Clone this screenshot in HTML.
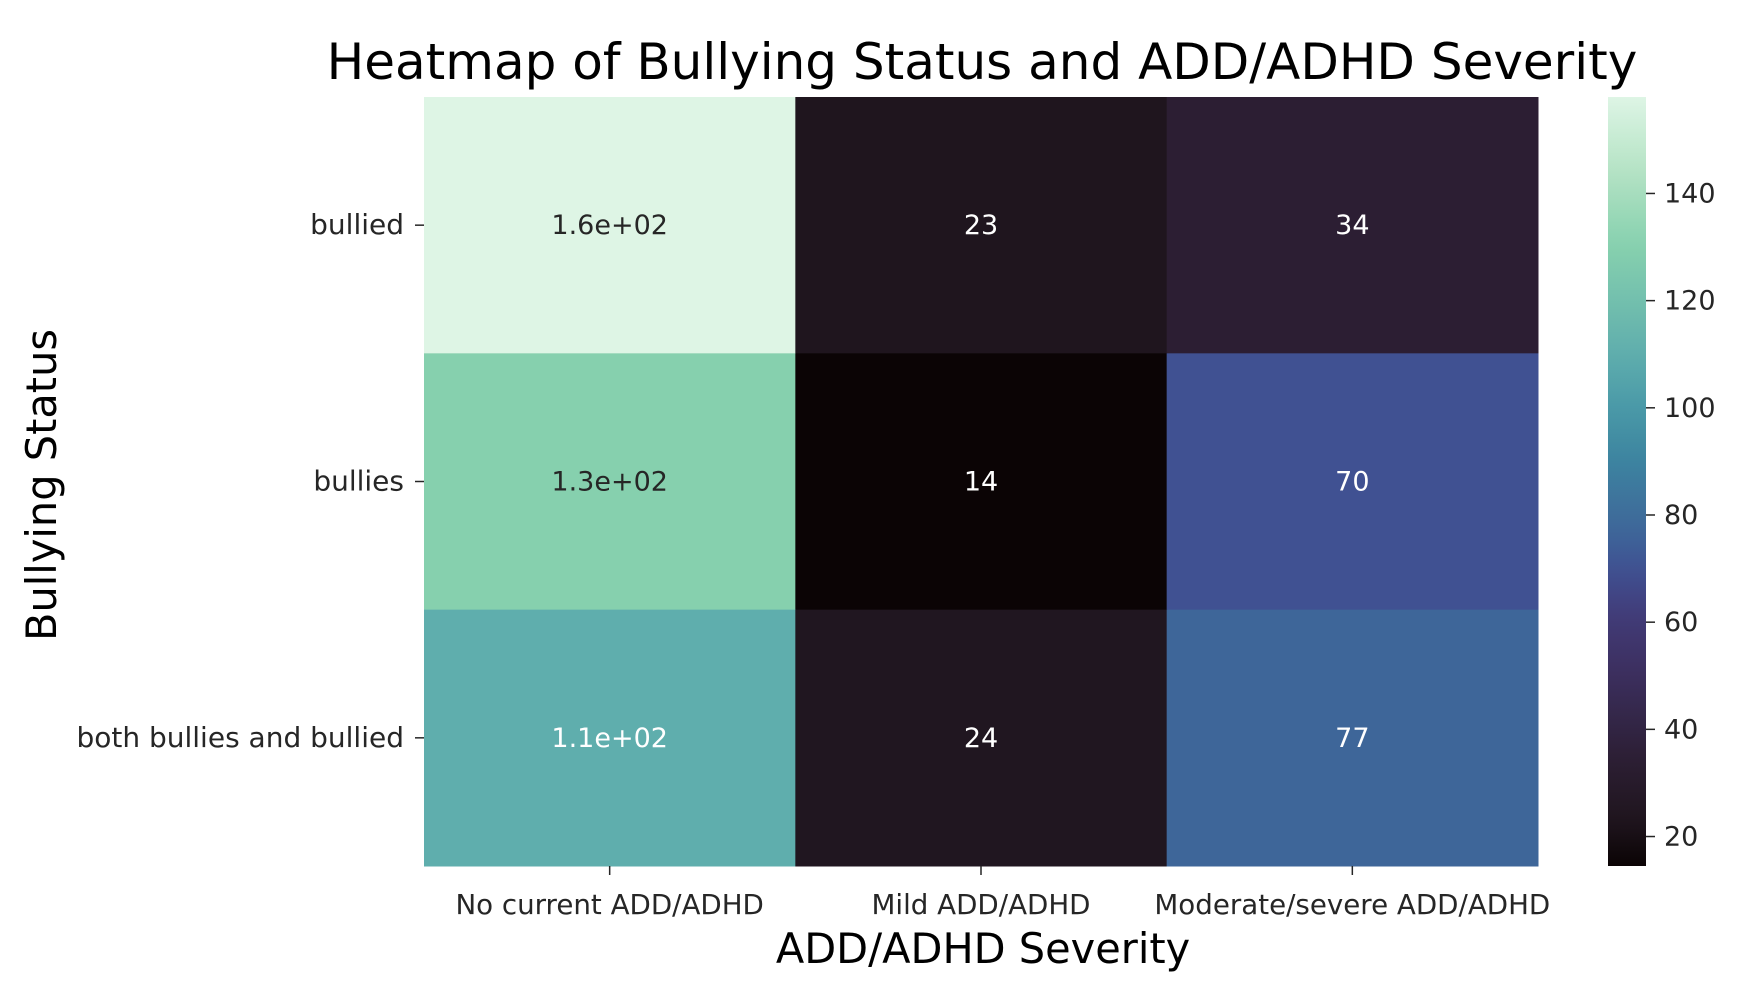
<!DOCTYPE html>
<html><head><meta charset="utf-8"><style>
html,body{margin:0;padding:0;background:#fff;}
svg{display:block;font-family:"DejaVu Sans","Liberation Sans",sans-serif;}
</style></head><body>
<svg id="chart" width="1741" height="985" viewBox="0 0 1741 985">
<defs><linearGradient id="cbgrad" x1="0" y1="1" x2="0" y2="0"></linearGradient></defs>
<text x="982" y="79" font-size="50" text-anchor="middle" fill="#000">Heatmap of Bullying Status and ADD/ADHD Severity</text>
<text x="983" y="963" font-size="41.5" text-anchor="middle" fill="#000">ADD/ADHD Severity</text>
<text transform="translate(56,485) rotate(-90)" font-size="41.5" text-anchor="middle" fill="#000">Bullying Status</text>
<g id="cells"></g>
<g id="cbar"></g>
</svg>
<script>
const rowLabels = ["bullied", "bullies", "both bullies and bullied"];
const colLabels = ["No current ADD/ADHD", "Mild ADD/ADHD", "Moderate/severe ADD/ADHD"];
const row0 = [158, 23, 34];
const row1 = [130, 14, 70];
const row2 = [110, 24, 77];
const annot0 = ["1.6e+02", "23", "34"];
const annot1 = ["1.3e+02", "14", "70"];
const annot2 = ["1.1e+02", "24", "77"];
const cbTicks = [20, 40, 60, 80, 100, 120, 140];
const vmin = 14.5, vmax = 158;

const NS = "http://www.w3.org/2000/svg";
const X0 = 424, X1 = 1538, Y0 = 97, Y1 = 866;
const CB0 = 1608, CB1 = 1646;
const stops = [[0,"#0b0405"],[0.06,"#1f151e"],[0.136,"#2c1e33"],[0.25,"#3c2f5e"],[0.32,"#413a76"],[0.387,"#405192"],[0.435,"#3e6699"],[0.53,"#3d85a0"],[0.6,"#4b9aa8"],[0.665,"#5faead"],[0.805,"#86d0ae"],[0.9,"#b3e2c4"],[1,"#def5e5"]];
function hex(c){return [1,3,5].map(i=>parseInt(c.substr(i,2),16));}
function mako(t){t=Math.max(0,Math.min(1,t));for(let i=1;i<stops.length;i++){if(t<=stops[i][0]){const a=stops[i-1],b=stops[i];const f=(t-a[0])/(b[0]-a[0]);const ca=hex(a[1]),cb=hex(b[1]);return "rgb("+ca.map((v,k)=>Math.round(v+(cb[k]-v)*f)).join(",")+")";}}return stops[stops.length-1][1];}
function norm(v){return (v-vmin)/(vmax-vmin);}
const xs = i => X0 + (X1-X0)*i/colLabels.length;
const ys = j => Y0 + (Y1-Y0)*j/rowLabels.length;
const cbY = v => Y1 - (Y1-Y0)*norm(v);
function mk(tag, attrs, parent, text){const e=document.createElementNS(NS,tag);for(const k in attrs)e.setAttribute(k,attrs[k]);if(text!==undefined)e.textContent=text;parent.appendChild(e);return e;}

const cells = document.getElementById("cells");
const rows = [row0,row1,row2], annots=[annot0,annot1,annot2];
rows.forEach((r,j)=>{r.forEach((v,i)=>{
  const rect = mk("rect",{x:xs(i),y:ys(j),width:xs(i+1)-xs(i)+0.5,height:ys(j+1)-ys(j)+0.5,fill:mako(norm(v))},cells);
  
  
  const t = mk("text",{x:(xs(i)+xs(i+1))/2,y:(ys(j)+ys(j+1))/2+9,"font-size":27,"text-anchor":"middle",fill:norm(v)>0.7?"#262626":"#ffffff"},cells,annots[j][i]);
  
  
});});
rowLabels.forEach((l,j)=>{
  const cy=(ys(j)+ys(j+1))/2;
  const tk = mk("line",{x1:X0-9,x2:X0,y1:cy,y2:cy,stroke:"#262626","stroke-width":1.5},cells);
  
  
  const t = mk("text",{x:X0-20,y:cy+9,"font-size":28,"text-anchor":"end",fill:"#262626"},cells,l);
  
  
});
colLabels.forEach((l,i)=>{
  const cx=(xs(i)+xs(i+1))/2;
  const tk = mk("line",{x1:cx,x2:cx,y1:Y1,y2:Y1+9,stroke:"#262626","stroke-width":1.5},cells);
  
  
  const t = mk("text",{x:cx,y:914,"font-size":27.7,"text-anchor":"middle",fill:"#262626"},cells,l);
  
  
});

const grad = document.getElementById("cbgrad");
for(let k=0;k<=40;k++){mk("stop",{offset:(k/40),"stop-color":mako(k/40)},grad);}
const cb = document.getElementById("cbar");
const cbr = mk("rect",{x:CB0,y:Y0,width:CB1-CB0,height:Y1-Y0,fill:"url(#cbgrad)"},cb);


cbTicks.forEach(v=>{
  const y=cbY(v);
  const tk = mk("line",{x1:CB1,x2:CB1+9,y1:y,y2:y,stroke:"#262626","stroke-width":1.5},cb);
  
  
  const t = mk("text",{x:CB1+18,y:y+9,"font-size":27,fill:"#262626"},cb,String(v));
  
  
});
</script>
</body></html>
